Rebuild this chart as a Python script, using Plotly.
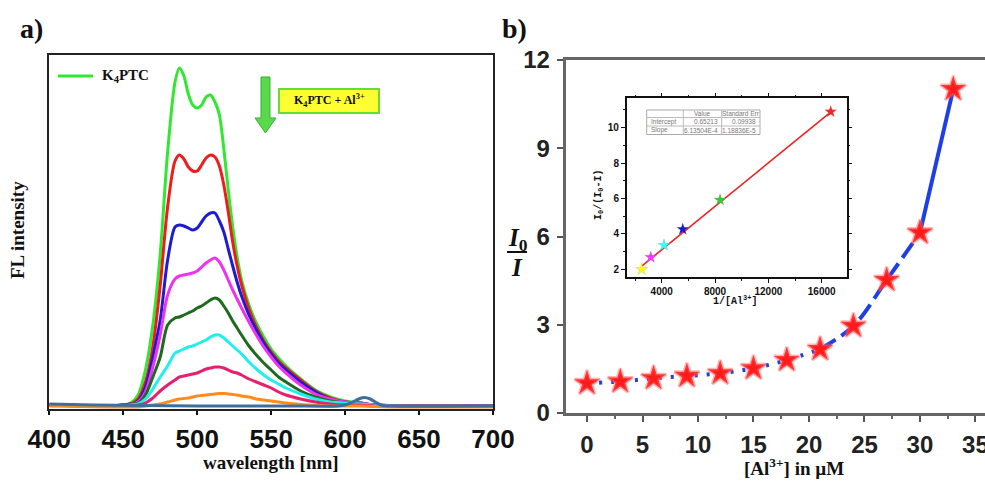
import plotly.graph_objects as go

W, H = 985, 481

# ---------------- data: panel a (emission spectra) ----------------
wl = [400, 440, 450, 455, 460, 465, 470, 475, 480, 485, 488, 491, 494, 497, 500, 503, 506, 509, 512, 515,
      518, 521, 524, 527, 530, 535, 540, 545, 550, 555, 560, 570, 580, 590, 600, 610, 620, 640, 700]
green = [2, 1, 2, 4, 12, 37, 82, 153, 255, 325, 339, 331, 313, 302, 299, 302, 310, 312, 305, 292,
         258, 217, 180, 150, 127, 102, 84, 70, 58, 49, 41, 28, 17, 10, 6, 4, 2, 1, 1]
red = [2, 1, 2, 3, 8, 25, 60, 122, 200, 246, 252, 248, 240, 236, 236, 242, 249, 252, 250, 241,
       222, 195, 165, 141, 122, 98, 80, 66, 55, 46, 39, 27, 16, 9, 5, 4, 2, 1, 1]
blue = [2, 1, 2, 3, 6, 20, 50, 87, 147, 180, 182, 181, 179, 177, 179, 185, 191, 194, 194, 186,
        175, 158, 141, 125, 111, 92, 77, 64, 53, 44, 37, 25, 15, 8, 5, 4, 2, 1, 1]
magenta = [2, 1, 2, 3, 5, 15, 40, 72, 112, 128, 131, 132, 133, 134, 136, 140, 144, 147, 149, 145,
           137, 127, 117, 108, 99, 85, 72, 60, 50, 41, 34, 22, 13, 8, 5, 4, 2, 1, 1]
dkgreen = [2, 1, 2, 3, 4, 12, 30, 50, 82, 89, 90, 92, 94, 96, 99, 101, 104, 107, 109, 107,
           101, 94, 86, 79, 72, 61, 52, 44, 37, 30, 25, 16, 10, 6, 4, 3, 2, 1, 1]
cyan = [2, 1, 1, 2, 3, 8, 18, 30, 41, 54, 56, 58, 60, 61, 63, 65, 67, 70, 72, 72,
        69, 65, 61, 57, 53, 45, 38, 32, 27, 23, 19, 13, 8, 5, 4, 3, 2, 1, 1]
crimson = [2, 1, 1, 1, 2, 4, 9, 16, 22, 27, 30, 31, 32, 33, 34, 36, 38, 39, 40, 40,
           39, 37, 35, 34, 32, 28, 25, 22, 19, 15, 12, 8, 5, 3, 2, 2, 1, 1, 1]
orange = [1, 0, 0, 0, 0, 1, 2, 3, 5, 7, 8, 8.5, 9, 10, 11, 11.5, 12, 12.5, 13, 13.5,
          13.5, 13, 12.5, 12, 11, 10, 8, 7, 6, 5, 4, 2.5, 1.5, 1, 1, 1, 0.5, 0, 0]
base_wl = [400, 430, 460, 500, 560, 595, 600, 605, 610, 613, 617, 621, 625, 630, 700]
base_val = [3, 2, 1.5, 1, 1, 1, 2, 5, 8.5, 9.5, 8, 4.5, 1.5, 1, 1]

spectra = [green, red, blue, magenta, dkgreen, cyan, crimson, orange]
spec_colors = ['#2fe82f', '#ee1c1c', '#1c1cd0', '#ee33ee', '#1e6b1e', '#22eeee', '#e6206e', '#ff8c1a']
base_color = '#3c6e9e'
wl_ticks = [400, 450, 500, 550, 600, 650, 700]

# ---------------- data: panel b ----------------
al_conc = [0, 3, 6, 9, 12, 15, 18, 21, 24, 27, 30, 33]
ratio = [1.01, 1.07, 1.18, 1.26, 1.35, 1.52, 1.80, 2.17, 2.96, 4.52, 6.13, 11.01]

# inset (Benesi-Hildebrand type plot)
inv_al = [2500, 3175, 4172, 5576, 8375, 16675]
ratio2 = [2.00, 2.68, 3.36, 4.26, 5.92, 10.90]
inset_colors = ['#ffff00', '#ff33ff', '#33ffff', '#1a1acc', '#33cc33', '#ff2020']
intercept, slope = 0.65213, 6.13504e-4
fit_x = [2500, 16675]
fit_y = [intercept + slope * v for v in fit_x]
table_rows = [["", "Value", "Standard Err"],
              ["Intercept", "0.65213", "0.09938"],
              ["Slope", "6.13504E-4", "1.18836E-5"]]


def PX(x):
    return x / W


def PY(y):
    return 1 - y / H


fig = go.Figure()

# panel a spectra
for ys, c in zip(spectra, spec_colors):
    fig.add_trace(go.Scatter(x=wl, y=ys, mode='lines', xaxis='x', yaxis='y',
                             line=dict(color=c, width=3, shape='spline', smoothing=0.8),
                             showlegend=False, hoverinfo='skip'))
fig.add_trace(go.Scatter(x=base_wl, y=base_val, mode='lines', xaxis='x', yaxis='y',
                         line=dict(color=base_color, width=3, shape='spline', smoothing=0.8),
                         showlegend=False, hoverinfo='skip'))

# panel b connecting line (dotted low part, dashed, solid top)
fig.add_trace(go.Scatter(x=al_conc[0:8], y=ratio[0:8], mode='lines', xaxis='x2', yaxis='y2',
                         line=dict(color='#1f3fe6', width=4, dash='3px,9px', shape='spline'),
                         showlegend=False, hoverinfo='skip'))
fig.add_trace(go.Scatter(x=al_conc[7:11], y=ratio[7:11], mode='lines', xaxis='x2', yaxis='y2',
                         line=dict(color='#1f3fe6', width=4, dash='18px,7px', shape='spline'),
                         showlegend=False, hoverinfo='skip'))
fig.add_trace(go.Scatter(x=al_conc[10:12], y=ratio[10:12], mode='lines', xaxis='x2', yaxis='y2',
                         line=dict(color='#1f3fe6', width=4),
                         showlegend=False, hoverinfo='skip'))
fig.add_trace(go.Scatter(x=al_conc, y=ratio, mode='markers', xaxis='x2', yaxis='y2',
                         marker=dict(symbol='star', size=19, color='#ff1a1a',
                                     line=dict(color='rgba(255,90,90,0.45)', width=3)),
                         showlegend=False, hoverinfo='skip'))

# inset
fig.add_trace(go.Scatter(x=fit_x, y=fit_y, mode='lines', xaxis='x3', yaxis='y3',
                         line=dict(color='#ee2020', width=1.6),
                         showlegend=False, hoverinfo='skip'))
fig.add_trace(go.Scatter(x=inv_al, y=ratio2, mode='markers', xaxis='x3', yaxis='y3',
                         marker=dict(symbol='star', size=9, color=inset_colors,
                                     line=dict(color='rgba(120,120,120,0.4)', width=0.5)),
                         showlegend=False, hoverinfo='skip'))

sans = 'Liberation Sans'
serif = 'Liberation Serif'
mono = 'Liberation Mono'

fig.update_layout(
    width=W, height=H,
    margin=dict(l=0, r=0, t=0, b=0, autoexpand=False),
    paper_bgcolor='white', plot_bgcolor='white',
    xaxis=dict(domain=[PX(49.3), PX(493)], anchor='y', range=[400, 700], automargin=False,
               tickmode='array', tickvals=wl_ticks, ticklabeloverflow='allow',
               ticks='outside', ticklen=4, tickwidth=1.5, tickcolor='#111',
               showline=True, linecolor='#222', linewidth=2, mirror=True,
               showgrid=False, zeroline=False, ticklabelstandoff=2,
               tickfont=dict(family=sans, size=26, color='#111', weight='bold')),
    yaxis=dict(domain=[PY(409), PY(55)], anchor='x', range=[-2, 352], automargin=False,
               showticklabels=False, ticks='', showline=True, linecolor='#222',
               linewidth=2, mirror=True, showgrid=False, zeroline=False),
    xaxis2=dict(domain=[PX(565.7), 1.0], anchor='y2', range=[-1.92, 35.86], automargin=False,
                tickmode='linear', tick0=0, dtick=5, ticklabeloverflow='allow',
                ticks='outside', ticklen=6, tickwidth=2, tickcolor='#555',
                minor=dict(ticks='outside', ticklen=3, tickwidth=1.5, tickcolor='#666',
                           tickmode='linear', tick0=0, dtick=2.5),
                showline=True, linecolor='#666', linewidth=3, mirror=True,
                showgrid=False, zeroline=False, ticklabelstandoff=2,
                tickfont=dict(family=sans, size=24, color='#222', weight='bold')),
    yaxis2=dict(domain=[PY(413), PY(60)], anchor='x2', range=[0, 12], automargin=False,
                tickmode='linear', tick0=0, dtick=3,
                ticks='outside', ticklen=6, tickwidth=2, tickcolor='#555',
                showline=True, linecolor='#666', linewidth=3, mirror=False,
                showgrid=False, zeroline=False, ticklabelstandoff=2,
                tickfont=dict(family=sans, size=24, color='#222', weight='bold')),
    xaxis3=dict(domain=[PX(626.7), PX(846.7)], anchor='y3', range=[1373, 17876], automargin=False,
                tickmode='linear', tick0=0, dtick=4000, tickformat='d',
                ticks='outside', ticklen=4, tickwidth=1, tickcolor='#111',
                minor=dict(ticks='outside', ticklen=2, tickwidth=1, tickcolor='#111',
                           tickmode='linear', tick0=0, dtick=2000),
                showline=True, linecolor='#111', linewidth=1.5, mirror='ticks',
                showgrid=False, zeroline=False,
                tickfont=dict(family=sans, size=10, color='#111', weight='bold')),
    yaxis3=dict(domain=[PY(277.3), PY(98.3)], anchor='x3', range=[1.55, 11.66], automargin=False,
                tickmode='linear', tick0=0, dtick=2,
                ticks='outside', ticklen=4, tickwidth=1, tickcolor='#111',
                minor=dict(ticks='outside', ticklen=2, tickwidth=1, tickcolor='#111',
                           tickmode='linear', tick0=1, dtick=1),
                showline=True, linecolor='#111', linewidth=1.5, mirror='ticks',
                showgrid=False, zeroline=False,
                tickfont=dict(family=sans, size=10, color='#111', weight='bold')),
)


def path(pts):
    return 'M ' + ' L '.join(f'{PX(x):.5f},{PY(y):.5f}' for x, y in pts) + ' Z'


shapes = []
# legend line
shapes.append(dict(type='line', xref='paper', yref='paper', x0=PX(58), x1=PX(93), y0=PY(76), y1=PY(76),
                   line=dict(color=spec_colors[0], width=3)))
# arrow
shapes.append(dict(type='path', xref='paper', yref='paper',
                   path=path([(261, 77), (270, 77), (270, 118), (276, 118), (265.5, 133), (255, 118), (261, 118)]),
                   fillcolor='#5ad94a', line=dict(color='#3aae3a', width=1)))
# yellow box
shapes.append(dict(type='rect', xref='paper', yref='paper', x0=PX(279), x1=PX(379), y0=PY(89), y1=PY(113),
                   fillcolor='#ffff33', line=dict(color='#66dd33', width=2)))
# fraction bar of I0/I
shapes.append(dict(type='line', xref='paper', yref='paper', x0=PX(507), x1=PX(527), y0=PY(252), y1=PY(252),
                   line=dict(color='#111', width=2)))
# table in inset
tx0, tx1, ty0, ty1 = 646.7, 760, 110, 134.5
shapes.append(dict(type='rect', xref='paper', yref='paper', x0=PX(tx0), x1=PX(tx1), y0=PY(ty0), y1=PY(ty1),
                   fillcolor='white', line=dict(color='#aaa', width=1)))
for yy in (117.5, 126):
    shapes.append(dict(type='line', xref='paper', yref='paper', x0=PX(tx0), x1=PX(tx1), y0=PY(yy), y1=PY(yy),
                       line=dict(color='#bbb', width=1)))
for xx in (683.3, 721.7):
    shapes.append(dict(type='line', xref='paper', yref='paper', x0=PX(xx), x1=PX(xx), y0=PY(ty0), y1=PY(ty1),
                       line=dict(color='#bbb', width=1)))
fig.update_layout(shapes=shapes)

ann = []


def A(x, y, text, size, family=serif, color='#111', xanchor='center', angle=0, bold=True):
    ann.append(dict(x=PX(x), y=PY(y), xref='paper', yref='paper', text=text, showarrow=False,
                    xanchor=xanchor, yanchor='middle', textangle=angle,
                    font=dict(family=family, size=size, color=color, weight='bold' if bold else 'normal')))


A(31, 28, 'a)', 28)
A(514, 28, 'b)', 28)
A(100, 76, 'K<sub>4</sub>PTC', 15, xanchor='left')
A(329, 101, 'K<sub>4</sub>PTC + Al<sup>3+</sup>', 12)
A(17, 230, 'FL intensity', 19, angle=-90)
A(271, 462, 'wavelength [nm]', 19)
A(794, 467, '[Al<sup>3+</sup>] in µM', 19)
A(518, 239, '<i>I</i><sub>0</sub>', 25)
A(517, 267, '<i>I</i>', 25)
A(599, 195, 'I<sub>0</sub>/(I<sub>0</sub>-I)', 10, family=mono, angle=-90)
A(735, 300, '1/[Al<sup>3+</sup>]', 10, family=mono)

# table text
row_y = [113.8, 121.8, 130.2]
for r, yy in enumerate(row_y):
    c0, c1, c2 = table_rows[r]
    if r == 0:
        A(702, yy, c1, 6.5, family=sans, color='#777', bold=False)
        A(741, yy, c2, 6.5, family=sans, color='#777', bold=False)
    else:
        A(649, yy, c0, 6.5, family=sans, color='#777', xanchor='left', bold=False)
        ann.append(dict(x=PX(720), y=PY(yy), xref='paper', yref='paper', text=c1, showarrow=False,
                        xanchor='right', yanchor='middle', font=dict(family=sans, size=6.5, color='#777')))
        ann.append(dict(x=PX(758), y=PY(yy), xref='paper', yref='paper', text=c2, showarrow=False,
                        xanchor='right', yanchor='middle', font=dict(family=sans, size=6.5, color='#777')))

fig.update_layout(annotations=ann)

fig.write_html("out.html", config={'displayModeBar': False},
               post_script="document.body.style.margin='0';document.body.style.padding='0';"
                           "document.body.style.overflow='hidden';")
